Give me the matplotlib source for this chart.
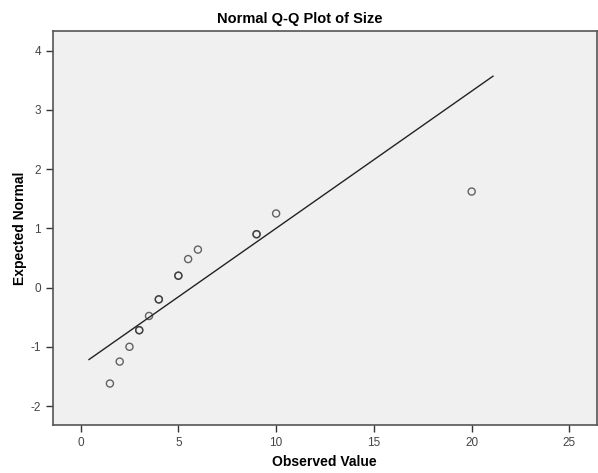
import numpy as np
import matplotlib
matplotlib.use("Agg")
import matplotlib.pyplot as plt

# Valores observados (con empates repetidos) y su normal esperada
observed = [1.5, 2.0, 2.5, 3.0, 3.0, 3.5, 4.0, 4.0, 5.0, 5.0, 5.5, 6.0, 9.0, 9.0, 10.0, 20.0]
expected = [-1.62, -1.25, -1.0, -0.72, -0.72, -0.48, -0.2, -0.2, 0.2, 0.2, 0.48, 0.64, 0.9, 0.9, 1.25, 1.62]

# Recta de referencia: (x - media) / desv
line_x = [0.43, 21.09]
mean_val = 5.68
sd_val = 4.32

x_ticks = [0, 5, 10, 15, 20, 25]
y_ticks = [-2, -1, 0, 1, 2, 3, 4]

plt.rcParams['font.family'] = ['Liberation Sans', 'DejaVu Sans']
plt.rcParams['axes.unicode_minus'] = False

fig = plt.figure(figsize=(5.98, 4.73), dpi=100)
ax = fig.add_axes([0.088, 0.1015, 0.91, 0.833])
ax.set_facecolor('#f0f0f0')

line_y = [(v - mean_val) / sd_val for v in line_x]
ax.plot(line_x, line_y, color='#222222', lw=1.0)
ax.scatter(observed, expected, s=26, facecolors='none',
           edgecolors=(0.2, 0.2, 0.2, 0.75), linewidths=1.0, zorder=3)

ax.set_xlim(-1.43, 26.4)
ax.set_ylim(-2.32, 4.33)
ax.set_xticks(x_ticks)
ax.set_yticks(y_ticks)
ax.tick_params(direction='out', length=5, width=1, color='#333333',
               labelsize=8.5, labelcolor='#444444')

for s in ax.spines.values():
    s.set_color('#555555')
    s.set_linewidth(1.2)

fig.text(0.502, 0.96, 'Normal Q-Q Plot of Size', ha='center', va='center',
         fontsize=10.5, fontweight='bold')
fig.text(0.543, 0.023, 'Observed Value', ha='center', va='center',
         fontsize=10, fontweight='bold')
fig.text(0.034, 0.518, 'Expected Normal', ha='center', va='center',
         rotation=90, fontsize=10, fontweight='bold')

fig.savefig('out.png', dpi=100)
